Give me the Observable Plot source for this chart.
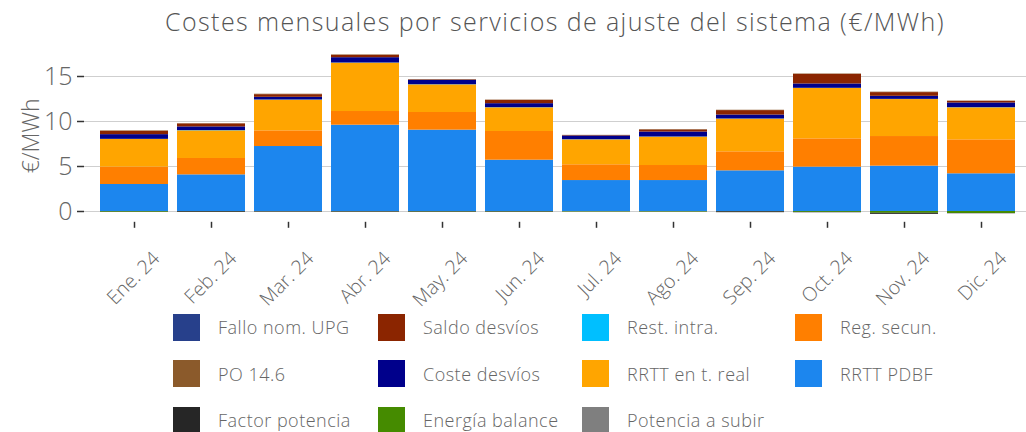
<!DOCTYPE html>
<html><head><meta charset="utf-8">
<script src="https://cdn.jsdelivr.net/npm/d3@7"></script>
<script src="https://cdn.jsdelivr.net/npm/@observablehq/plot@0.6"></script>
<style>
body{margin:0;background:#fff;font-family:"Open Sans", Lato, sans-serif;font-weight:300;}
#wrap{position:relative;width:1026px;height:432px;overflow:hidden;background:#fff;}
#title{position:absolute;left:84px;width:942px;top:4px;text-align:center;font-size:25px;letter-spacing:1.4px;color:#555;font-weight:300;}
#chart{position:absolute;left:0;top:40px;}
#legend{position:absolute;left:173px;top:304px;display:grid;grid-template-columns:205px 204px 213px 200px;grid-auto-rows:46.5px;}
.item{display:flex;align-items:center;font-size:18px;letter-spacing:0.5px;color:#666;white-space:nowrap;font-weight:300;}
.sw{width:27px;height:27px;margin-right:18px;flex:none;}
svg text{font-weight:300;}
</style></head><body>
<div id="wrap">
<div id="title">Costes mensuales por servicios de ajuste del sistema (€/MWh)</div>
<div id="chart"></div>
<div id="legend"></div>
</div>
<script>
const months = ["Ene. 24","Feb. 24","Mar. 24","Abr. 24","May. 24","Jun. 24","Jul. 24","Ago. 24","Sep. 24","Oct. 24","Nov. 24","Dic. 24"];
// series values (€/MWh)
const rrttPdbf       = [3.00, 4.07, 7.22, 9.59, 9.04, 5.70, 3.44, 3.44, 4.52, 4.93, 5.04, 4.19];
const regSecun       = [1.93, 1.82, 1.74, 1.52, 1.96, 3.19, 1.75, 1.67, 2.11, 3.14, 3.29, 3.77];
const potenciaSubir  = [0, 0, 0, 0, 0, 0, 0, 0, 0, 0, 0, 0];
const rrttReal       = [3.07, 3.07, 3.41, 5.37, 3.07, 2.63, 2.77, 3.15, 3.63, 5.60, 4.11, 3.56];
const restIntra      = [0.02, 0.03, 0.02, 0.02, 0.02, 0.02, 0.02, 0.02, 0.02, 0.02, 0.02, 0.02];
const energiaBalance = [-0.08, -0.03, -0.02, -0.03, -0.05, -0.05, -0.05, -0.06, -0.03, -0.10, -0.20, -0.22];
const costeDesvios   = [0.52, 0.41, 0.30, 0.59, 0.49, 0.44, 0.41, 0.55, 0.44, 0.48, 0.34, 0.52];
const saldoDesvios   = [0.37, 0.33, 0.29, 0.26, 0.05, 0.37, 0.05, 0.23, 0.49, 1.07, 0.41, 0.18];
const factorPotencia = [-0.02, -0.08, -0.06, -0.06, -0.05, -0.05, -0.02, -0.02, -0.10, -0.04, -0.12, -0.03];
const po146          = [0.05, 0.03, 0.05, 0.05, 0.03, 0.03, 0.02, 0.04, 0.04, 0.04, 0.05, 0.03];
const falloUpg       = [0, 0, 0, 0, 0, 0, 0, 0, 0, 0, 0, 0];

// stacking order, bottom to top
const seriesNames = ["RRTT PDBF","Reg. secun.","Potencia a subir","RRTT en t. real","Rest. intra.","Energía balance","Coste desvíos","Saldo desvíos","Factor potencia","PO 14.6","Fallo nom. UPG"];
const seriesValues = [rrttPdbf, regSecun, potenciaSubir, rrttReal, restIntra, energiaBalance, costeDesvios, saldoDesvios, factorPotencia, po146, falloUpg];
const seriesColors = ["#1C86EE","#FF7F00","#7F7F7F","#FFA500","#00BFFF","#458B00","#00008B","#8B2500","#262626","#8B5A2B","#27408B"];
// legend order (row-major)
const legendOrder = ["Fallo nom. UPG","Saldo desvíos","Rest. intra.","Reg. secun.","PO 14.6","Coste desvíos","RRTT en t. real","RRTT PDBF","Factor potencia","Energía balance","Potencia a subir"];
const yTicks = [0, 5, 10, 15];

const data = [];
seriesNames.forEach((s, i) => months.forEach((m, j) => data.push({month: m, serie: s, value: seriesValues[i][j]})));

const chart = Plot.plot({
  width: 1026, height: 292,
  marginLeft: 84, marginRight: 0, marginTop: 9, marginBottom: 110.2,
  style: {fontFamily: "'Open Sans', Lato, sans-serif", background: "transparent", overflow: "visible"},
  x: {domain: months, range: [92.1, 1023.6], paddingInner: 0.112, paddingOuter: 0.05, axis: null, label: null},
  y: {domain: [-1.2, 18], axis: null, label: null},
  color: {domain: seriesNames, range: seriesColors},
  marks: [
    Plot.gridY(yTicks, {stroke: "#cfcfcf", strokeOpacity: 1, strokeWidth: 1.2}),
    Plot.barY(data, Plot.stackY({x: "month", y: "value", fill: "serie", order: seriesNames})),
    Plot.axisY(yTicks, {label: null, tickSize: 7, tickPadding: 5, fontSize: 25, color: "#666", stroke: "#333", strokeWidth: 1.5, style: {letterSpacing: "1px"}}),
    Plot.axisX({label: null, tickSize: 6, tickPadding: 0, tickFormat: () => "", stroke: "#333", strokeWidth: 1.5}),
    Plot.axisX({label: null, tickSize: 0, tickPadding: 3, tickRotate: -45, textAnchor: "end", lineAnchor: "middle", fontSize: 19.5, color: "#666", dx: 22, dy: 30, style: {letterSpacing: "0.8px"}}),
    Plot.text(["€/MWh"], {text: d => d, frameAnchor: "left", textAnchor: "middle", rotate: -90, dx: -53, fontSize: 23, fill: "#666"})
  ]
});
document.getElementById("chart").appendChild(chart);

const leg = document.getElementById("legend");
legendOrder.forEach(name => {
  const c = seriesColors[seriesNames.indexOf(name)];
  const d = document.createElement("div");
  d.className = "item";
  d.innerHTML = `<span class="sw" style="background:${c}"></span><span>${name}</span>`;
  leg.appendChild(d);
});
</script>
</body></html>
